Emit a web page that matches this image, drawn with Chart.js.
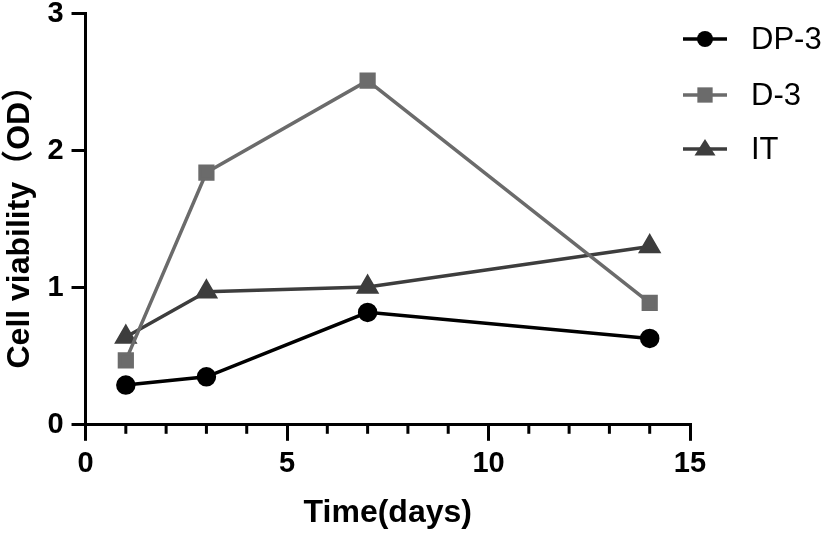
<!DOCTYPE html>
<html>
  <head>
    <title>Cell viability</title>
    <script src="https://cdn.jsdelivr.net/npm/chart.js@4/dist/chart.umd.min.js"></script>
    <style>
      body { margin: 0; background: #fff; }
      #wrap { width: 825px; height: 536px; }
    </style>
  </head>

  <body>
    <div id="wrap"><canvas id="myChart"></canvas></div>
    <script>
      const days = [1, 3, 7, 14];
      const dp3Values = [0.29, 0.35, 0.82, 0.63];
      const d3Values = [0.47, 1.84, 2.51, 0.89];
      const itValues = [0.64, 0.97, 1.005, 1.30];

      const toPoints = vals => days.map((d, i) => ({ x: d, y: vals[i] }));
      const fontFam = '"Liberation Sans", Arial, "Noto Sans CJK SC", sans-serif';

      // minor ticks on the x axis, one per day
      const minorTicks = {
        id: 'minorTicks',
        afterDraw(chart) {
          const x = chart.scales.x, y = chart.scales.y;
          const ctx = chart.ctx;
          const base = y.getPixelForValue(0);
          ctx.save();
          ctx.strokeStyle = '#000';
          ctx.lineWidth = 3;
          for (let v = 1; v < 15; v++) {
            if (v % 5 === 0) continue;
            const px = x.getPixelForValue(v);
            ctx.beginPath();
            ctx.moveTo(px, base);
            ctx.lineTo(px, base + 9);
            ctx.stroke();
          }
          ctx.restore();
        }
      };

      // legend with a line through each marker
      const sideLegend = {
        id: 'sideLegend',
        afterDraw(chart) {
          const ctx = chart.ctx;
          const rows = [39, 95, 149];
          ctx.save();
          chart.data.datasets.forEach((ds, i) => {
            const yy = rows[i];
            ctx.strokeStyle = ds.borderColor;
            ctx.lineWidth = 3.5;
            ctx.beginPath();
            ctx.moveTo(683, yy);
            ctx.lineTo(727, yy);
            ctx.stroke();
            ctx.fillStyle = ds.pointBackgroundColor;
            const r = ds.pointRadius;
            ctx.beginPath();
            if (ds.pointStyle === 'circle') {
              ctx.arc(705, yy, r, 0, Math.PI * 2);
            } else if (ds.pointStyle === 'rect') {
              ctx.rect(705 - r * 0.85, yy - r * 0.85, r * 1.7, r * 1.7);
            } else {
              ctx.moveTo(705, yy - r);
              ctx.lineTo(705 + r * 1.05, yy + r * 0.65);
              ctx.lineTo(705 - r * 1.05, yy + r * 0.65);
              ctx.closePath();
            }
            ctx.fill();
            ctx.fillStyle = '#000';
            ctx.font = '31px ' + fontFam;
            ctx.textBaseline = 'middle';
            ctx.fillText(ds.label, 751, yy + 1);
          });
          ctx.restore();
        }
      };

      const ctx = document.getElementById('myChart');
      const myChart = new Chart(ctx, {
        type: 'scatter',
        data: {
          datasets: [{
              label: 'DP-3',
              data: toPoints(dp3Values),
              showLine: true,
              borderColor: '#000000',
              pointBackgroundColor: '#000000',
              pointBorderColor: '#000000',
              borderWidth: 3.5,
              pointStyle: 'circle',
              pointRadius: 8,
            }, {
              label: 'D-3',
              data: toPoints(d3Values),
              showLine: true,
              borderColor: '#6b6b6b',
              pointBackgroundColor: '#6b6b6b',
              pointBorderColor: '#6b6b6b',
              borderWidth: 3.5,
              pointStyle: 'rect',
              pointRadius: 9,
            }, {
              label: 'IT',
              data: toPoints(itValues),
              showLine: true,
              borderColor: '#3d3d3d',
              pointBackgroundColor: '#3d3d3d',
              pointBorderColor: '#3d3d3d',
              borderWidth: 3.5,
              pointStyle: 'triangle',
              pointRadius: 10,
          }],
        },
        options: {
          responsive: true,
          maintainAspectRatio: false,
          animation: false,
          layout: { padding: { top: 0, right: 135, left: 0, bottom: 4 } },
          plugins: { legend: { display: false }, tooltip: { enabled: false } },
          scales: {
            x: {
              type: 'linear',
              min: 0, max: 15,
              ticks: { stepSize: 5, color: '#000', padding: 6,
                font: { family: fontFam, size: 29, weight: 'bold' } },
              grid: { drawOnChartArea: false, color: '#000', lineWidth: 3, tickLength: 16 },
              border: { color: '#000', width: 3 },
              title: { display: true, text: 'Time(days)', color: '#000', padding: { top: 6, bottom: 0 },
                font: { family: fontFam, size: 32, weight: 'bold' } },
            },
            y: {
              min: 0, max: 3,
              ticks: { stepSize: 1, color: '#000', padding: 8,
                font: { family: fontFam, size: 29, weight: 'bold', lineHeight: 0.25 } },
              grid: { drawOnChartArea: false, color: '#000', lineWidth: 3, tickLength: 14 },
              border: { color: '#000', width: 3 },
              title: { display: true, text: 'Cell viability（OD）', color: '#000', padding: { top: 1, bottom: 0 },
                font: { family: fontFam, size: 32, weight: 'bold' } },
            },
          },
        },
        plugins: [minorTicks, sideLegend],
      });
    </script>
  </body>
</html>
